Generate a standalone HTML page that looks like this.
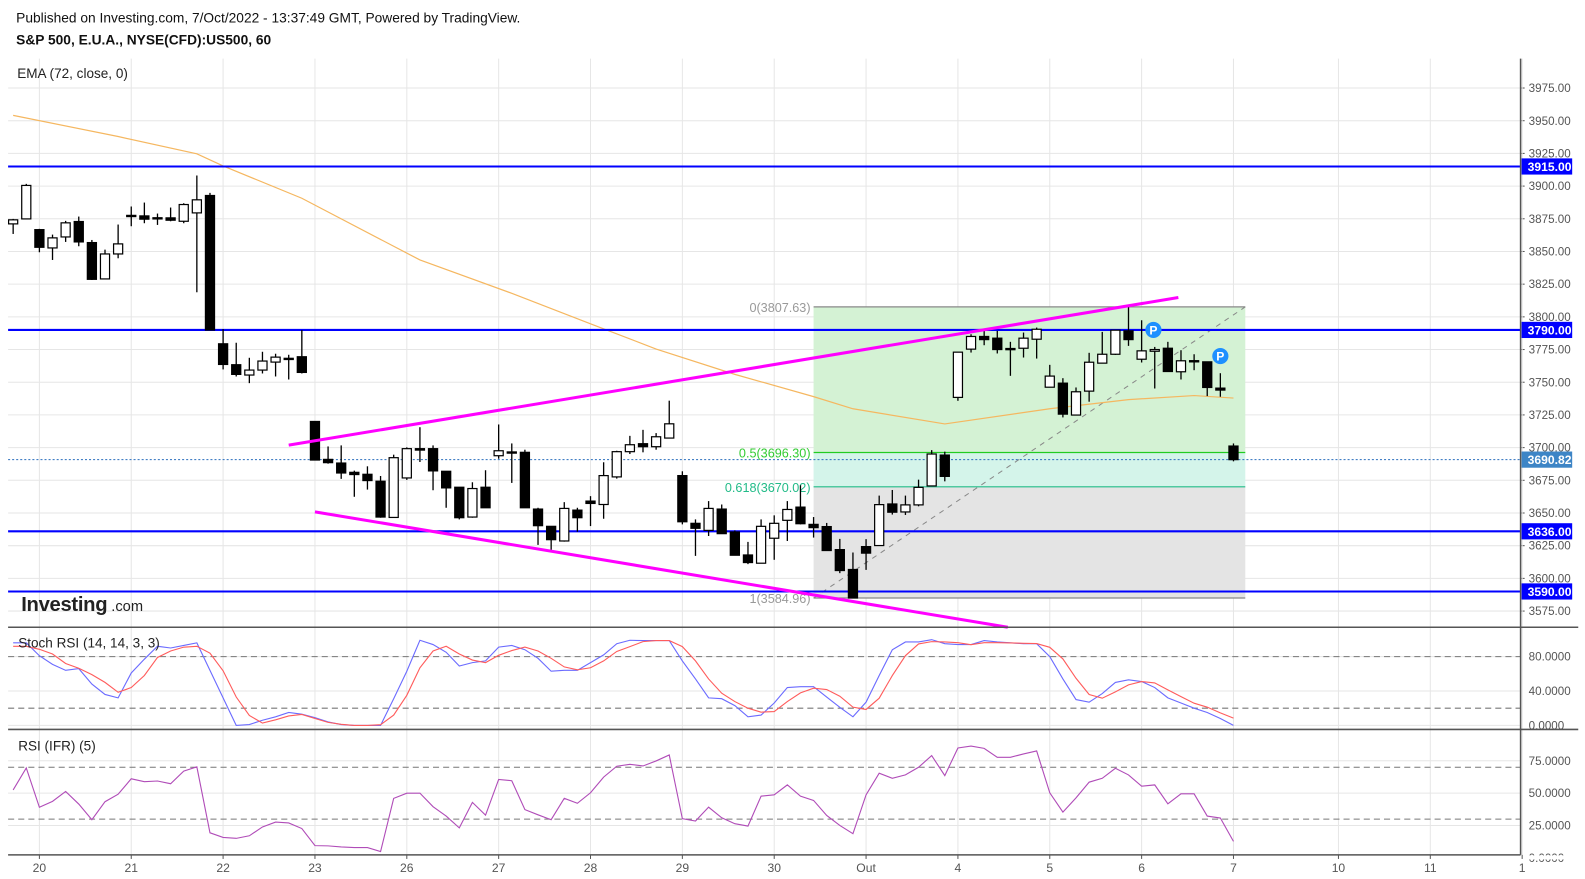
<!DOCTYPE html>
<html><head><meta charset="utf-8"><style>
html,body{margin:0;padding:0;background:#fff;width:1585px;height:879px;overflow:hidden}
svg{display:block;font-family:"Liberation Sans",Arial,sans-serif}
</style></head><body>
<svg id="chart" width="1585" height="879" viewBox="0 0 1585 879" xmlns="http://www.w3.org/2000/svg">
<rect x="0" y="0" width="1585" height="879" fill="#fff"/>
<g transform="scale(1.0117)">
<text x="16" y="22" font-size="13.6" fill="#111">Published on Investing.com, 7/Oct/2022 - 13:37:49 GMT, Powered by TradingView.</text>
<text x="16" y="44" font-size="13.6" font-weight="bold" fill="#111">S&amp;P 500, E.U.A., NYSE(CFD):US500, 60</text>
<g id="layer"></g>
</g>
</svg>
<script>
// ---- data ----
const opens=[3871.1,3874.9,3866.7,3852.7,3861.1,3872.9,3856.8,3829.0,3848.1,3877.5,3877.2,3875.7,3875.7,3873.1,3879.5,3892.8,3779.4,3763.4,3755.5,3759.3,3765.4,3768.2,3769.5,3720.0,3691.0,3688.2,3681.1,3679.6,3674.3,3646.6,3676.8,3699.2,3699.2,3681.9,3669.7,3646.9,3669.7,3693.8,3696.6,3696.4,3653.0,3639.8,3628.6,3652.2,3659.1,3656.5,3677.6,3696.9,3703.0,3700.7,3707.3,3678.6,3642.1,3636.7,3653.0,3635.5,3617.9,3611.6,3630.7,3644.4,3654.5,3641.3,3639.6,3622.0,3606.8,3624.3,3625.1,3656.9,3650.8,3656.2,3670.7,3694.3,3738.4,3775.3,3785.0,3783.7,3775.8,3776.0,3782.9,3746.2,3749.3,3724.9,3743.2,3764.6,3771.4,3789.3,3767.6,3773.7,3776.0,3758.0,3766.4,3765.6,3745.5,3701.2];
const closes=[3874.2,3900.5,3853.2,3860.4,3871.9,3857.3,3828.7,3848.1,3855.8,3877.6,3874.7,3875.8,3873.9,3885.9,3889.5,3789.9,3763.6,3756.0,3759.3,3766.2,3769.2,3768.3,3757.5,3690.5,3688.5,3680.6,3679.4,3674.8,3646.9,3692.3,3699.2,3698.1,3682.2,3669.2,3646.4,3668.7,3654.0,3697.6,3696.7,3654.0,3640.3,3629.6,3653.5,3646.4,3657.3,3678.6,3696.9,3702.2,3700.7,3708.3,3718.2,3643.3,3638.3,3653.5,3634.2,3617.7,3612.1,3639.8,3642.1,3652.7,3641.8,3638.8,3621.3,3606.0,3585.0,3619.3,3656.4,3650.6,3656.2,3669.6,3695.1,3678.0,3773.0,3785.0,3782.6,3775.0,3775.7,3783.7,3790.5,3754.7,3725.6,3742.7,3765.3,3771.4,3789.8,3782.6,3774.0,3775.0,3758.2,3766.4,3766.5,3746.0,3744.0,3690.8];
const highs=[3874.9,3901.7,3867.3,3862.9,3873.4,3876.7,3858.8,3851.4,3870.6,3884.4,3887.4,3879.0,3883.6,3886.9,3908.1,3894.8,3790.7,3780.2,3768.7,3773.3,3771.8,3771.0,3789.9,3720.0,3700.9,3701.7,3682.4,3685.7,3678.3,3694.6,3700.2,3715.6,3701.7,3681.9,3669.7,3673.5,3682.7,3717.7,3703.2,3698.4,3654.0,3639.8,3658.3,3654.0,3662.9,3688.8,3697.6,3709.0,3713.6,3711.1,3735.9,3681.9,3645.1,3659.1,3656.5,3636.7,3627.9,3645.1,3648.2,3659.1,3671.2,3646.9,3642.4,3630.2,3619.8,3630.0,3663.3,3667.6,3663.3,3675.5,3698.1,3696.9,3773.0,3786.7,3789.3,3789.3,3780.9,3788.0,3791.8,3763.3,3753.1,3746.0,3772.5,3788.5,3789.8,3807.6,3797.4,3777.0,3780.9,3774.5,3771.4,3765.6,3756.9,3703.2];
const lows=[3863.4,3874.9,3849.4,3843.5,3857.3,3854.0,3828.2,3829.0,3844.8,3869.3,3871.6,3870.3,3873.1,3871.6,3818.8,3789.9,3759.8,3754.4,3749.3,3756.7,3754.4,3752.1,3756.7,3690.5,3687.7,3676.1,3662.4,3667.9,3646.4,3646.6,3675.3,3689.0,3667.4,3654.0,3645.1,3646.4,3654.0,3691.5,3673.0,3654.0,3625.6,3621.8,3628.1,3635.7,3640.0,3645.6,3676.3,3695.1,3696.4,3698.4,3707.3,3641.3,3617.2,3632.4,3634.2,3617.7,3610.9,3611.6,3614.2,3628.6,3641.3,3631.2,3621.3,3604.0,3585.0,3606.5,3625.1,3648.8,3648.5,3655.1,3670.7,3674.2,3735.8,3772.7,3778.3,3772.0,3754.9,3768.9,3768.1,3746.2,3723.1,3724.9,3735.1,3764.6,3770.9,3777.8,3765.1,3745.2,3758.2,3752.1,3759.2,3739.4,3738.9,3689.5];
const emaIdx=[0,8,14,16,22,31,38,44,49,55,61,64,71,79,85,90,93];
const emaVals=[3954.1,3937.9,3924.7,3915.4,3890.7,3843.5,3818.0,3794.7,3775.4,3756.0,3739.0,3729.7,3718.1,3729.7,3736.7,3739.8,3737.9];
const stochK=[96,96,81,71,64,66,48,36,32,61,77,92,90,93,96,64,32,0,1,6,10,15,13,9,4,1,0,0,0,31,63,99,94,85,69,73,75,91,93,88,78,63,64,64,73,82,95,99,98.6,98.6,98.6,75,54,32,31,23,10,12,26,44,45,45,33,21,10,27,58,88,97,97,99.7,95,94,94,98.6,97,96,95,95,80,54,30,27,37,50,53,51,44,32,26,20,15,8,0];
const stochD=[92,92,88.5,83,72,66.5,59,50,38.5,44,58,79,86.5,91,92,84,63.5,33,11.5,2.7,6.5,11,12.7,8,3.5,1.2,0,0,0.8,12,35,67,86.5,92,83,76,73,81.5,87,91,86.5,78,68,64.6,67,75,86,91.6,97.4,98.6,98.6,91.6,75,54,37.4,27.7,20,15.4,16.1,27.7,37.8,43.2,41.7,33.9,21.2,18.5,31.6,57.9,81.1,94.7,97.4,97,96.2,93.9,96.2,96.2,95.9,95.5,95.1,90.8,77.3,54.8,35.9,31.6,39,47.1,51,49.4,41.3,33.5,25.8,21.2,14.6,8.4];
const rsiVals=[52.5,69.5,39.1,43.7,51.3,41.6,29.5,43.4,49.2,61.1,58.9,59.4,57.3,67,70.3,19.4,15.8,15.1,17.1,23.9,27.7,27,22.7,9.5,9.3,8.5,8,8,4.9,46,50,50,39.6,32.3,23.2,42.9,33,60.6,59.6,37.3,33.3,29.5,46,42.2,50.3,62.4,70.8,72.3,71,74.9,79.5,30.3,28.5,39.2,31,26.4,24.6,47.7,48.7,56.4,47.7,44.4,32.8,25.1,18.7,48.7,65.4,61.5,64.1,70,79,63.6,84.9,86.4,84.6,77.7,77.7,80.3,82.6,50.3,35.4,46.4,58.5,61.5,69.2,64.1,55.4,56.4,41.8,49.5,49.5,32.3,30.8,12.8];
const priceTicks=[3975,3950,3925,3900,3875,3850,3825,3800,3775,3750,3725,3700,3675,3650,3625,3600,3575];
const levelPrices=[3915,3790,3636,3590];
const lastPrice=3690.82;
const dayTickIdx=[2,9,16,23,30,37,44,51,58,65,72,79,86,93,101,108,115];
const dayTickLabels=["20","21","22","23","26","27","28","29","30","Out","4","5","6","7","10","11","1"];
const fibHigh=3807.63, fibLow=3584.96;
const fibRatios=[0,0.5,0.618,1];
const fibStartIdx=61, fibEndIdx=93.9;
const upperTrend=[[21.0,3701.9],[88.8,3814.8]];
const lowerTrend=[[23.0,3650.9],[75.8,3562.6]];
const pMarkers=[[86.9,3790],[92,3770]];
const stochTicks=[80,40,0];
const rsiTicks=[75,50,25,0];

// ---- scales ----
const X=i=>13+i*12.97;
const Y=p=>87+(3975-p)*1.2925;
const YS=v=>717-v*0.85;
const YR=v=>848-v*1.28;
const NS="http://www.w3.org/2000/svg";
const L=document.getElementById('layer');
function mk(tag,attrs,txt){const e=document.createElementNS(NS,tag);for(const k in attrs)e.setAttribute(k,attrs[k]);if(txt!==undefined)e.textContent=txt;L.appendChild(e);return e;}
let el;

priceTicks.forEach(p=>{
 el=mk('line',{x1:8,x2:1503,y1:Y(p),y2:Y(p),stroke:'#e6e6e6','stroke-width':1});
 
 
 el=mk('text',{x:1511,y:Y(p)+4,'font-size':11.5,fill:'#555'},p.toFixed(2));
 
 
 el=mk('line',{x1:1503,x2:1507,y1:Y(p),y2:Y(p),stroke:'#555'});
 
 
});
dayTickIdx.forEach((d,k)=>{
 el=mk('line',{x1:X(d),x2:X(d),y1:58,y2:845,stroke:'#e6e6e6','stroke-width':1});
 
 
 el=mk('text',{x:X(d),y:862,'font-size':12,fill:'#555','text-anchor':'middle'},dayTickLabels[k]);
 
 
});
stochTicks.forEach(v=>{
 el=mk('line',{x1:8,x2:1503,y1:YS(v),y2:YS(v),stroke:'#e6e6e6'});
 
 
 el=mk('text',{x:1511,y:YS(v)+4,'font-size':11.5,fill:'#555'},v.toFixed(4));
 
 
});
[80,20].forEach(v=>{
 el=mk('line',{x1:8,x2:1503,y1:YS(v),y2:YS(v),stroke:'#777','stroke-dasharray':'6,4'});
 
 
});
rsiTicks.forEach(v=>{
 el=mk('line',{x1:8,x2:1503,y1:YR(v),y2:YR(v),stroke:'#e6e6e6'});
 
 
 el=mk('text',{x:1511,y:YR(v)+4,'font-size':11.5,fill:'#555'},v.toFixed(4));
 
 
});
[70,30].forEach(v=>{
 el=mk('line',{x1:8,x2:1503,y1:YR(v),y2:YR(v),stroke:'#777','stroke-dasharray':'6,4'});
 
 
});

const fibY=fibRatios.map(r=>Y(fibHigh-r*(fibHigh-fibLow)));
const fx1=X(fibStartIdx),fx2=X(fibEndIdx);
const fibFills=['#d4f2d4','#d4f4ea','#e4e4e4'];
for(let k=0;k<3;k++){
 el=mk('rect',{x:fx1,y:fibY[k],width:fx2-fx1,height:fibY[k+1]-fibY[k],fill:fibFills[k]});
 
 
}
const fibColors=['#888','#22cc22','#22bb88','#888'];
const fibTextColors=['#999','#33cc33','#22bb88','#999'];
fibRatios.forEach((r,k)=>{
 const lvl=fibHigh-r*(fibHigh-fibLow);
 el=mk('line',{x1:fx1,x2:fx2,y1:fibY[k],y2:fibY[k],stroke:fibColors[k],'stroke-width':1.2});
 
 
 el=mk('text',{x:fx1-3,y:fibY[k]+5,'font-size':12.5,fill:fibTextColors[k],'text-anchor':'end'},r+'('+lvl.toFixed(2)+')');
 
 
});
el=mk('line',{x1:fx1,y1:fibY[3],x2:fx2,y2:fibY[0],stroke:'#888','stroke-dasharray':'5,5'});



el=mk('polyline',{points:emaIdx.map((d,k)=>X(d)+','+Y(emaVals[k])).join(' '),fill:'none',stroke:'#f5b760','stroke-width':1.2});



levelPrices.forEach(p=>{
 el=mk('line',{x1:8,x2:1503,y1:Y(p),y2:Y(p),stroke:'#0000ff','stroke-width':2});
 
 
});
el=mk('line',{x1:8,x2:1503,y1:Y(lastPrice),y2:Y(lastPrice),stroke:'#2a6ebd','stroke-dasharray':'2,2'});



const cw=9;
for(let i=0;i<opens.length;i++){
 const o=opens[i],c=closes[i],up=c>=o,x=X(i);
 el=mk('line',{x1:x,x2:x,y1:Y(highs[i]),y2:Y(lows[i]),stroke:'#000','stroke-width':1.3});
 
 
 const top=Y(Math.max(o,c)),bh=Math.max(1.2,Math.abs(Y(o)-Y(c)));
 el=mk('rect',{x:x-cw/2,y:top,width:cw,height:bh,fill:up?'#fff':'#000',stroke:'#000','stroke-width':1.2});
 
 
}

[upperTrend,lowerTrend].forEach((t,k)=>{
 el=mk('line',{x1:X(t[0][0]),y1:Y(t[0][1]),x2:X(t[1][0]),y2:Y(t[1][1]),stroke:'#ff00ff','stroke-width':3});
 
 
});
pMarkers.forEach(m=>{
 el=mk('circle',{cx:X(m[0]),cy:Y(m[1]),r:8,fill:'#1e90ff'});
 
 
 el=mk('text',{x:X(m[0]),y:Y(m[1])+4.5,'font-size':12,'font-weight':'bold',fill:'#fff','text-anchor':'middle'},'P');
 
 
});

levelPrices.forEach(p=>{
 el=mk('rect',{x:1504,y:Y(p)-8,width:50,height:16,fill:'#0000ff'});
 
 
 el=mk('text',{x:1510,y:Y(p)+4.5,'font-size':12,'font-weight':'bold',fill:'#fff'},p.toFixed(2));
 
 
});
el=mk('rect',{x:1504,y:Y(lastPrice)-8,width:50,height:16,fill:'#3d85c6'});


el=mk('text',{x:1510,y:Y(lastPrice)+4.5,'font-size':12,'font-weight':'bold',fill:'#fff'},lastPrice.toFixed(2));



el=mk('polyline',{points:stochK.map((v,i)=>X(i)+','+YS(v)).join(' '),fill:'none',stroke:'#6b6bff','stroke-width':1.1});


el=mk('polyline',{points:stochD.map((v,i)=>X(i)+','+YS(v)).join(' '),fill:'none',stroke:'#ff5c5c','stroke-width':1.1});


el=mk('polyline',{points:rsiVals.map((v,i)=>X(i)+','+YR(v)).join(' '),fill:'none',stroke:'#b04cb8','stroke-width':1.1});



el=mk('rect',{x:0,y:845.5,width:1585,height:4,fill:'#fff'});


[[8,620,1560,620],[8,721,1560,721],[8,845,1503,845],[1503,58,1503,845]].forEach(s=>{
 el=mk('line',{x1:s[0],y1:s[1],x2:s[2],y2:s[3],stroke:'#555','stroke-width':1.5});
 
 
});
dayTickIdx.forEach(d=>{
 el=mk('line',{x1:X(d),x2:X(d),y1:845,y2:849,stroke:'#555'});
 
 
});

el=mk('text',{x:17,y:77,'font-size':13.4,fill:'#222'},'EMA (72, close, 0)');


el=mk('text',{x:18,y:640,'font-size':13.4,fill:'#222'},'Stoch RSI (14, 14, 3, 3)');


el=mk('text',{x:18,y:742,'font-size':13.4,fill:'#222'},'RSI (IFR) (5)');


el=mk('text',{x:21,y:604,'font-size':20,'font-weight':'bold',fill:'#222','letter-spacing':'-0.3'},'Investing');


el=mk('text',{x:110,y:604,'font-size':14.5,fill:'#222'},'.com');


</script>
</body></html>
